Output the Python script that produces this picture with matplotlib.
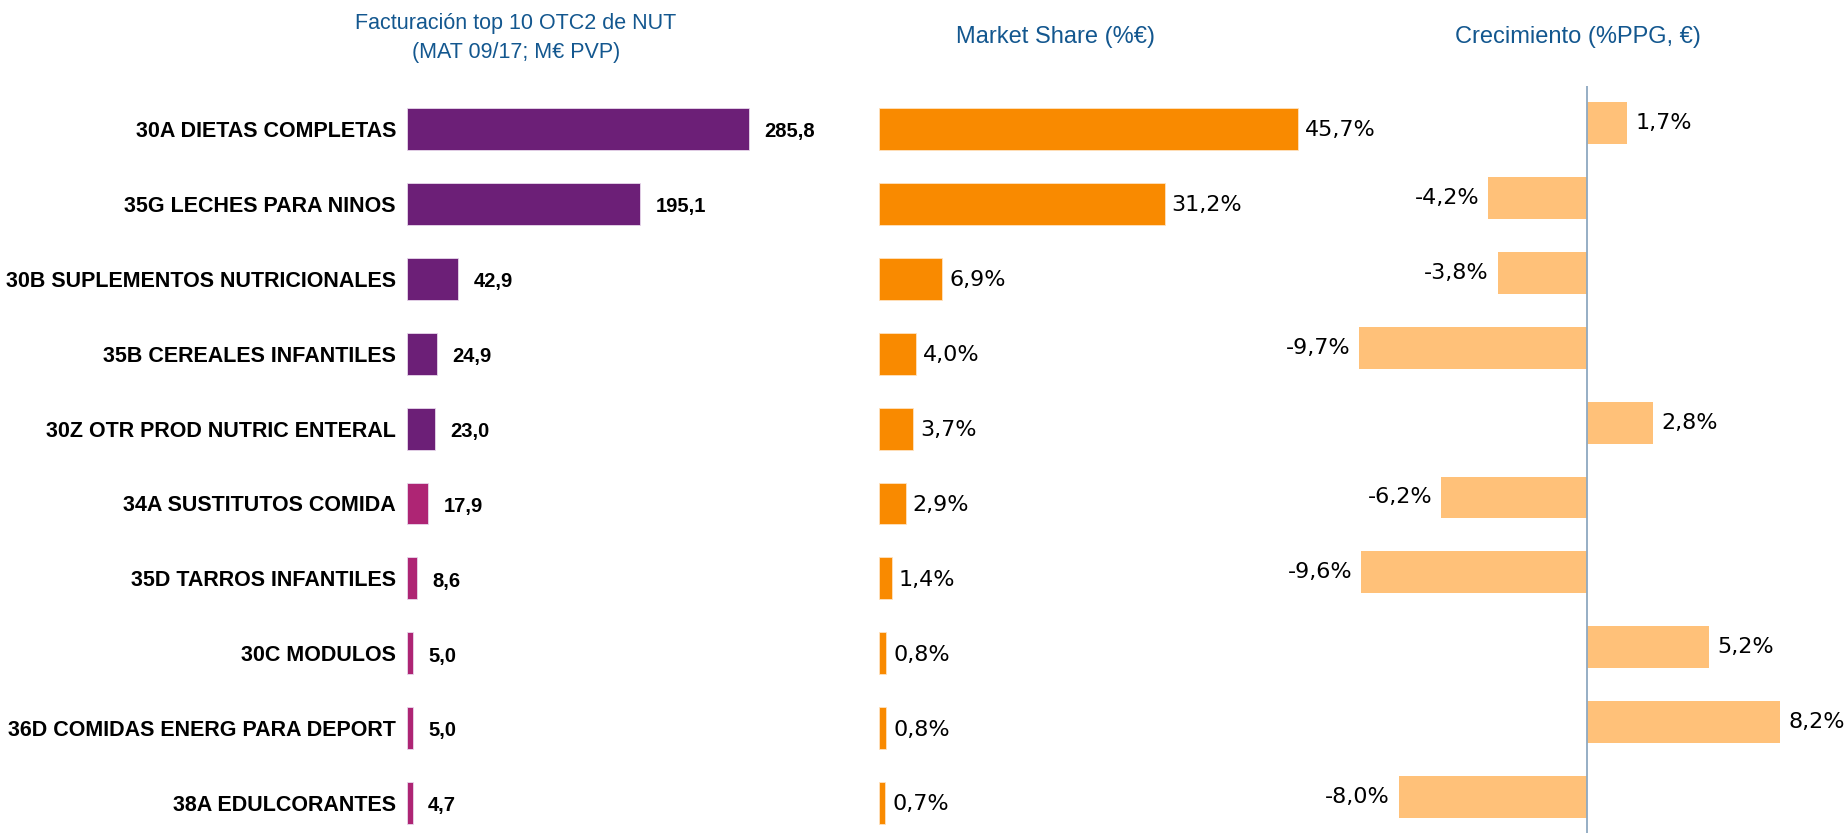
import matplotlib
matplotlib.use("Agg")
import matplotlib.pyplot as plt

categories = [
    "30A DIETAS COMPLETAS",
    "35G LECHES PARA NINOS",
    "30B SUPLEMENTOS NUTRICIONALES",
    "35B CEREALES INFANTILES",
    "30Z OTR PROD NUTRIC ENTERAL",
    "34A SUSTITUTOS COMIDA",
    "35D TARROS INFANTILES",
    "30C MODULOS",
    "36D COMIDAS ENERG PARA DEPORT",
    "38A EDULCORANTES",
]
facturacion = [285.8, 195.1, 42.9, 24.9, 23.0, 17.9, 8.6, 5.0, 5.0, 4.7]
market_share = [45.7, 31.2, 6.9, 4.0, 3.7, 2.9, 1.4, 0.8, 0.8, 0.7]
crecimiento = [1.7, -4.2, -3.8, -9.7, 2.8, -6.2, -9.6, 5.2, 8.2, -8.0]

W, H = 1848, 836
PURPLE = "#6C1F77"
MAGENTA = "#AE2574"
ORANGE = "#F98A00"
LIGHT_ORANGE = "#FFC179"
TITLE_BLUE = "#13578F"


def coma(v, suffix=""):
    return f"{v:.1f}".replace(".", ",") + suffix


def px_axes(fig, left, top, width, height):
    return fig.add_axes([left / W, 1 - (top + height) / H, width / W, height / H])


fig = plt.figure(figsize=(W / 100, H / 100), dpi=100)
fig.patch.set_facecolor("white")

rows = list(range(len(categories)))
row_h = 74.9
ylim = (9.4, -0.6)
ax_h = 10 * row_h
ax_top = 129 - 0.6 * row_h
bar_h = 0.56

# panel 1: facturación
ax1 = px_axes(fig, 407, ax_top, 300 * 1.196, ax_h)
colors1 = [PURPLE] * 5 + [MAGENTA] * 5
ax1.barh(rows, facturacion, height=bar_h, color=colors1, edgecolor="#E8D8EC", linewidth=0.6)
ax1.set_xlim(0, 300)
ax1.set_ylim(*ylim)
ax1.set_yticks(rows)
ax1.set_yticklabels(categories, fontsize=15.5, fontweight="bold", family="Liberation Sans")
ax1.tick_params(axis="y", length=0, pad=8)
ax1.set_xticks([])
for y, v in zip(rows, facturacion):
    ax1.annotate(coma(v), (v, y), xytext=(11, -2), textcoords="offset points",
                 va="center", ha="left", fontsize=14.5, fontweight="bold", family="Liberation Sans")

# panel 2: market share
ax2 = px_axes(fig, 879, ax_top, 48 * 9.16, ax_h)
ax2.barh(rows, market_share, height=bar_h, color=ORANGE, edgecolor="#FFE3C0", linewidth=0.6)
ax2.set_xlim(0, 48)
ax2.set_ylim(*ylim)
ax2.set_xticks([])
ax2.set_yticks([])
for y, v in zip(rows, market_share):
    ax2.annotate(coma(v, "%"), (v, y), xytext=(5, -1), textcoords="offset points",
                 va="center", ha="left", fontsize=16, family="DejaVu Sans")

# panel 3: crecimiento
ax3 = px_axes(fig, 1587 - 11 * 23.5, ax_top - 6, 22 * 23.5, ax_h + 6)
ax3.barh(rows, crecimiento, height=bar_h, color=LIGHT_ORANGE, edgecolor="none")
ax3.set_xlim(-11, 11)
ax3.set_ylim(9.4 + 6 / row_h, -0.6)
ax3.set_xticks([])
ax3.set_yticks([])
ax3.vlines(0, -0.49, 9.6, color="#8EA8C0", linewidth=1.3)
for y, v in zip(rows, crecimiento):
    if v >= 0:
        ax3.annotate(coma(v, "%"), (v, y), xytext=(6, 0), textcoords="offset points",
                     va="center", ha="left", fontsize=16, family="DejaVu Sans")
    else:
        ax3.annotate(coma(v, "%"), (v, y), xytext=(-6.5, 0), textcoords="offset points",
                     va="center", ha="right", fontsize=16, family="DejaVu Sans")

for ax in (ax1, ax2, ax3):
    for s in ax.spines.values():
        s.set_visible(False)
    ax.patch.set_alpha(0)

fig.text(516 / W, 1 - 38 / H, "Facturación top 10 OTC2 de NUT\n(MAT 09/17; M€ PVP)",
         ha="center", va="center", color=TITLE_BLUE, fontsize=15.5, family="Liberation Sans",
         linespacing=1.5)
fig.text(1056 / W, 1 - 36.5 / H, "Market Share (%€)", ha="center", va="center",
         color=TITLE_BLUE, fontsize=17, family="Liberation Sans")
fig.text(1578 / W, 1 - 36.5 / H, "Crecimiento (%PPG, €)", ha="center", va="center",
         color=TITLE_BLUE, fontsize=17, family="Liberation Sans")

fig.savefig("out.png", dpi=100)
